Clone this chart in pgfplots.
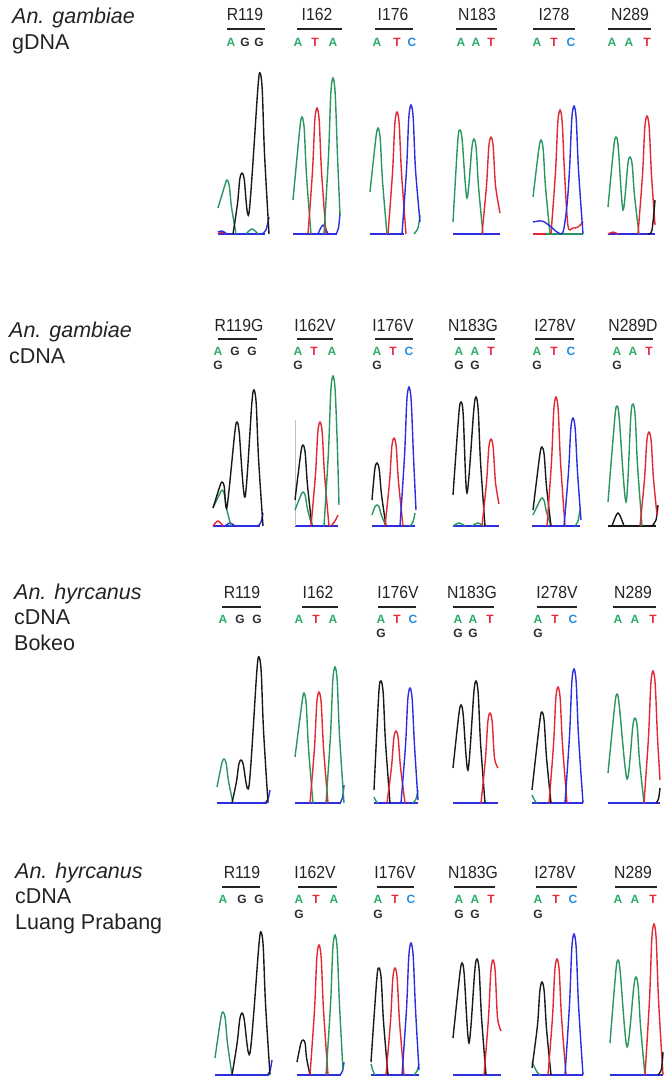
\documentclass[border=0pt]{standalone}
\usepackage{pgfplots}
\pgfplotsset{compat=1.18}
\usepackage{fontspec}
\setmainfont{Liberation Sans}
\newfontfamily\condf[FakeStretch=0.9]{Liberation Sans}
\definecolor{tg}{RGB}{40,150,95}
\definecolor{tr}{RGB}{228,40,50}
\definecolor{tb}{RGB}{45,45,225}
\definecolor{tk}{RGB}{25,25,25}
\definecolor{cA}{RGB}{45,170,105}
\definecolor{cT}{RGB}{230,40,60}
\definecolor{cC}{RGB}{40,140,220}
\definecolor{cG}{RGB}{45,45,45}
\definecolor{lab}{RGB}{35,35,35}
\newcommand{\cod}[4]{\node[text=#4,font=\fontsize{12}{12}\selectfont\bfseries] at (#1,#2) {#3};}
\newcommand{\plab}[3]{\node[text=lab,font=\condf\fontsize{17.5}{18}\selectfont] at (#1,#2) {#3};}
\begin{document}
\begin{tikzpicture}
\begin{axis}[hide axis, scale only axis, width=668pt, height=1079pt,
  xmin=0, xmax=668, ymin=0, ymax=1079, y dir=reverse,
  every axis plot/.append style={line width=1.4pt, smooth, tension=0.5, mark=none}]
\path (rel axis cs:0,0) rectangle (rel axis cs:1,1);
% ---------- overlines ----------
\addplot[lab, line width=2pt, sharp plot] coordinates {(227,29) (265,29)};
\addplot[lab, line width=2pt, sharp plot] coordinates {(297,29) (342,29)};
\addplot[lab, line width=2pt, sharp plot] coordinates {(375,29) (413,29)};
\addplot[lab, line width=2pt, sharp plot] coordinates {(456,29) (497,29)};
\addplot[lab, line width=2pt, sharp plot] coordinates {(533,29) (575,29)};
\addplot[lab, line width=2pt, sharp plot] coordinates {(608,29) (651,29)};
\addplot[lab, line width=2pt, sharp plot] coordinates {(218,339) (257,339)};
\addplot[lab, line width=2pt, sharp plot] coordinates {(297,339) (333,339)};
\addplot[lab, line width=2pt, sharp plot] coordinates {(375,339) (413,339)};
\addplot[lab, line width=2pt, sharp plot] coordinates {(454,339) (495,339)};
\addplot[lab, line width=2pt, sharp plot] coordinates {(535,339) (574,339)};
\addplot[lab, line width=2pt, sharp plot] coordinates {(612,339) (653,339)};
\addplot[lab, line width=2pt, sharp plot] coordinates {(222,607) (261,607)};
\addplot[lab, line width=2pt, sharp plot] coordinates {(302,607) (338,607)};
\addplot[lab, line width=2pt, sharp plot] coordinates {(378,607) (416,607)};
\addplot[lab, line width=2pt, sharp plot] coordinates {(453,607) (494,607)};
\addplot[lab, line width=2pt, sharp plot] coordinates {(537,607) (577,607)};
\addplot[lab, line width=2pt, sharp plot] coordinates {(613,607) (656,607)};
\addplot[lab, line width=2pt, sharp plot] coordinates {(222,887) (260,887)};
\addplot[lab, line width=2pt, sharp plot] coordinates {(298,887) (337,887)};
\addplot[lab, line width=2pt, sharp plot] coordinates {(377,887) (414,887)};
\addplot[lab, line width=2pt, sharp plot] coordinates {(454,887) (495,887)};
\addplot[lab, line width=2pt, sharp plot] coordinates {(536,887) (577,887)};
\addplot[lab, line width=2pt, sharp plot] coordinates {(615,887) (657,887)};
% ---------- baselines ----------
\addplot[tb, line width=1.1pt, sharp plot] coordinates {(218,234) (265,234)};
\addplot[tb, line width=1.1pt, sharp plot] coordinates {(293,234) (337,234)};
\addplot[tb, line width=1.1pt, sharp plot] coordinates {(370,234) (404,234)};
\addplot[tb, line width=1.1pt, sharp plot] coordinates {(453,234) (500,234)};
\addplot[tg, line width=1.1pt, sharp plot] coordinates {(533,234) (583,234)};
\addplot[tb, line width=1.1pt, sharp plot] coordinates {(608,234) (655,234)};
\addplot[tb, line width=1.1pt, sharp plot] coordinates {(213,526) (260,526)};
\addplot[tb, line width=1.1pt, sharp plot] coordinates {(295,526) (338,526)};
\addplot[tb, line width=1.1pt, sharp plot] coordinates {(372,526) (415,526)};
\addplot[tb, line width=1.1pt, sharp plot] coordinates {(453,526) (499,526)};
\addplot[tb, line width=1.1pt, sharp plot] coordinates {(532,526) (580,526)};
\addplot[tk, line width=1.1pt, sharp plot] coordinates {(608,526) (656,526)};
\addplot[tb, line width=1.1pt, sharp plot] coordinates {(217,803) (267,803)};
\addplot[tb, line width=1.1pt, sharp plot] coordinates {(295,803) (341,803)};
\addplot[tb, line width=1.1pt, sharp plot] coordinates {(374,803) (418,803)};
\addplot[tb, line width=1.1pt, sharp plot] coordinates {(453,803) (498,803)};
\addplot[tb, line width=1.1pt, sharp plot] coordinates {(532,803) (583,803)};
\addplot[tb, line width=1.1pt, sharp plot] coordinates {(608,803) (660,803)};
\addplot[tb, line width=1.1pt, sharp plot] coordinates {(215,1075) (269,1075)};
\addplot[tb, line width=1.1pt, sharp plot] coordinates {(297,1075) (341,1075)};
\addplot[tb, line width=1.1pt, sharp plot] coordinates {(371,1075) (419,1075)};
\addplot[tb, line width=1.1pt, sharp plot] coordinates {(453,1075) (501,1075)};
\addplot[tb, line width=1.1pt, sharp plot] coordinates {(532,1075) (583,1075)};
\addplot[tb, line width=1.1pt, sharp plot] coordinates {(610,1075) (663,1075)};
% ================= ROW 1 (base 234) =================
% P1 R119
\addplot[tr] coordinates {(218,234) (222,232) (226,234)};
\addplot[tb] coordinates {(218,232) (222,231) (227,234)};
\addplot[tb] coordinates {(262,234) (266,230) (269,217)};
\addplot[tg] coordinates {(218,208) (224.8,185.4) (227,180) (229.2,185.4) (231.5,207) (236,234)};
\addplot[tg] coordinates {(246,234) (252,229) (258,234)};
\addplot[tk] coordinates {(233,234) (237.5,203.5) (239.8,179.1) (242,173) (244.2,179.1) (249,213) (257.8,89.1) (260,73) (262.2,89.1) (264.5,153.5) (269,234)};
% P2 I162
\addplot[tb] coordinates {(318,234) (323,225) (328,234)};
\addplot[tb] coordinates {(336,234) (338.5,228) (340,213)};
\addplot[tg] coordinates {(293,200) (299.8,128.7) (302,117) (304.2,128.7) (306.5,175.5) (311,234)};
\addplot[tr] coordinates {(308,234) (312.5,171) (314.8,120.6) (317,108) (319.2,120.6) (321.5,171) (326,234)};
\addplot[tg] coordinates {(324,234) (328.5,156) (330.8,93.6) (333,78) (335.2,93.6) (337.5,156) (340,215)};
% P3 I176
\addplot[tg] coordinates {(370,192) (375.8,138.6) (378,128) (380.2,138.6) (382.5,181) (387,234)};
\addplot[tg] coordinates {(414,234) (418,228) (420,215)};
\addplot[tr] coordinates {(388,234) (392.5,173) (394.8,124.2) (397,112) (399.2,124.2) (401.5,173) (406,234)};
\addplot[tb] coordinates {(402,234) (406.5,169.5) (408.8,117.9) (411,105) (413.2,117.9) (415.5,169.5) (420,222)};
% P4 N183
\addplot[tg] coordinates {(453,222) (457.8,140.4) (460,130) (462.2,140.4) (467,198) (471.8,148.5) (474,139) (476.2,148.5) (478.5,186.5) (483,234)};
\addplot[tr] coordinates {(482,234) (486.5,185.5) (488.8,146.7) (491,137) (493.2,146.7) (495.5,185.5) (500,213)};
% P5 I278
\addplot[tg] coordinates {(533,197) (538.8,149.4) (541,140) (543.2,149.4) (545.5,187) (550,234)};
\addplot[tr] coordinates {(533,234) (546,234)};
\addplot[tr] coordinates {(551,234) (555.5,172) (557.8,122.4) (560,110) (562.2,122.4) (564.5,172) (568,226) (573,228) (578,227) (583,222)};
\addplot[tb] coordinates {(533,222) (542,221) (550,226) (557,232) (563,232) (567,205) (569.5,170) (571.8,118.8) (574,106) (576.2,118.8) (578.5,170) (583,234)};
% P6 N289
\addplot[tr] coordinates {(608,234) (613,232) (618,234)};
\addplot[tg] coordinates {(608,207) (613.8,146.7) (616,137) (618.2,146.7) (623,210) (627.8,164.7) (630,157) (632.2,164.7) (634.5,195.5) (639,234)};
\addplot[tr] coordinates {(638,234) (642.5,175) (644.8,127.8) (647,116) (649.2,127.8) (651.5,175) (655,225)};
\addplot[tk] coordinates {(648,234) (652,230) (655,200)};
% ================= ROW 2 (base 526) =================
\addplot[black!25, line width=0.8pt, sharp plot] coordinates {(295,420) (295,526)};
% P1 R119G
\addplot[tr] coordinates {(213,526) (218,521) (223,526)};
\addplot[tb] coordinates {(225,526) (230,523) (235,526)};
\addplot[tb] coordinates {(258,526) (261,522) (263,513)};
\addplot[tg] coordinates {(213,508) (219.8,493.6) (222,490) (224.2,493.6) (226.5,508) (231,526)};
\addplot[tk] coordinates {(213,508) (219.8,486.4) (222,482) (224.2,486.4) (227,507) (234.8,432.4) (237,422) (239.2,432.4) (245,497) (251.8,403.6) (254,390) (256.2,403.6) (258.5,458) (263,526)};
% P2 I162V
\addplot[tg] coordinates {(295,510) (300.8,495.4) (303,492) (305.2,495.4) (307.5,509) (312,526)};
\addplot[tk] coordinates {(295,500) (300.8,453.1) (303,445) (305.2,453.1) (307.5,485.5) (312,526)};
\addplot[tr] coordinates {(331,526) (335,521) (338,515)};
\addplot[tr] coordinates {(311,526) (315.5,474) (317.8,432.4) (320,422) (322.2,432.4) (324.5,474) (329,526)};
\addplot[tg] coordinates {(324,526) (328.5,451) (330.8,391) (333,376) (335.2,391) (337.5,451) (339,505)};
% P3 I176V
\addplot[tg] coordinates {(372,515) (374.8,507.1) (377,505) (379.2,507.1) (381.5,515.5) (386,526)};
\addplot[tg] coordinates {(410,526) (413,522) (415,513)};
\addplot[tk] coordinates {(372,500) (374.8,469.3) (377,463) (379.2,469.3) (381.5,494.5) (386,526)};
\addplot[tr] coordinates {(385,526) (389.5,482) (391.8,446.8) (394,438) (396.2,446.8) (398.5,482) (403,526)};
\addplot[tb] coordinates {(400,526) (404.5,456.5) (406.8,400.9) (409,387) (411.2,400.9) (413.5,456.5) (416,510)};
% P4 N183G
\addplot[tg] coordinates {(453,526) (459,523) (465,526)};
\addplot[tg] coordinates {(472,526) (478,523) (484,526)};
\addplot[tk] coordinates {(453,495) (458.8,414.4) (461,402) (463.2,414.4) (467,493) (473.8,409.9) (476,397) (478.2,409.9) (480.5,461.5) (485,526)};
\addplot[tr] coordinates {(482,526) (486.5,482.5) (488.8,447.7) (491,439) (493.2,447.7) (495.5,482.5) (499,504)};
% P5 I278V
\addplot[tg] coordinates {(533,515) (539.8,500.8) (542,498) (544.2,500.8) (546.5,512) (551,526)};
\addplot[tg] coordinates {(575,526) (578,521) (580,510)};
\addplot[tk] coordinates {(533,510) (539.8,454.9) (542,447) (544.2,454.9) (546.5,486.5) (551,526)};
\addplot[tr] coordinates {(547,526) (551.5,461.5) (553.8,409.9) (556,397) (558.2,409.9) (560.5,461.5) (565,526)};
\addplot[tb] coordinates {(564,526) (568.5,472) (570.8,428.8) (573,418) (575.2,428.8) (577.5,472) (581,520)};
% P6 N289D
\addplot[tk] coordinates {(612,526) (618,513) (624,526)};
\addplot[tk] coordinates {(652,526) (656,520) (658,505)};
\addplot[tg] coordinates {(608,502) (614.8,418) (617,406) (619.2,418) (626,502) (630.8,416.2) (633,404) (635.2,416.2) (637.5,465) (642,526)};
\addplot[tr] coordinates {(640,526) (644.5,479) (646.8,441.4) (649,432) (651.2,441.4) (653.5,479) (657,515)};
% ================= ROW 3 (base 803) =================
% P1 R119
\addplot[tb] coordinates {(265,803) (268,799) (270,790)};
\addplot[tg] coordinates {(217,787) (221.8,763.4) (224,759) (226.2,763.4) (228.5,781) (233,803)};
\addplot[tk] coordinates {(232,803) (236.5,781.5) (238.8,764.3) (241,760) (243.2,764.3) (249,786) (256.8,671.6) (259,657) (261.2,671.6) (263.5,730) (268,803)};
% P2 I162
\addplot[tb] coordinates {(340,803) (342.5,798) (344,785)};
\addplot[tg] coordinates {(295,757) (301.8,704) (304,693) (306.2,704) (308.5,748) (313,803)};
\addplot[tr] coordinates {(310,803) (314.5,747.5) (316.8,703.1) (319,692) (321.2,703.1) (323.5,747.5) (328,803)};
\addplot[tg] coordinates {(326,803) (330.5,735) (332.8,680.6) (335,667) (337.2,680.6) (339.5,735) (344,803)};
% P3 I176V
\addplot[tg] coordinates {(374,797) (376,801) (378,803)};
\addplot[tg] coordinates {(413,803) (416,799) (418,790)};
\addplot[tk] coordinates {(374,790) (378.8,693.2) (381,681) (383.2,693.2) (385.5,742) (390,803)};
\addplot[tr] coordinates {(387,803) (391.5,767) (393.8,738.2) (396,731) (398.2,738.2) (400.5,767) (405,803)};
\addplot[tb] coordinates {(401,803) (405.5,745.5) (407.8,699.5) (410,688) (412.2,699.5) (414.5,745.5) (418,800)};
% P4 N183G
\addplot[tk] coordinates {(453,768) (458.8,714.8) (461,705) (463.2,714.8) (468,770) (473.8,693.2) (476,681) (478.2,693.2) (480.5,742) (485,803)};
\addplot[tr] coordinates {(481,803) (485.5,758) (487.8,722) (490,713) (492.2,722) (494.5,758) (498,768)};
% P5 I278V
\addplot[tg] coordinates {(532,795) (535,801) (537,803)};
\addplot[tk] coordinates {(532,790) (539.8,721.1) (542,712) (544.2,721.1) (546.5,757.5) (551,803)};
\addplot[tr] coordinates {(549,803) (553.5,745) (555.8,698.6) (558,687) (560.2,698.6) (562.5,745) (567,803)};
\addplot[tb] coordinates {(565,803) (569.5,736) (571.8,682.4) (574,669) (576.2,682.4) (578.5,736) (583,803)};
% P6 N289
\addplot[tg] coordinates {(608,773) (614.8,704.9) (617,694) (619.2,704.9) (627,779) (632.8,726.5) (635,718) (637.2,726.5) (639.5,760.5) (644,803)};
\addplot[tr] coordinates {(644,803) (648.5,737) (650.8,684.2) (653,671) (655.2,684.2) (657.5,737) (660,780)};
\addplot[tk] coordinates {(656,803) (658.5,799) (660,788)};
% ================= ROW 4 (base 1075) =================
% P1 R119
\addplot[tb] coordinates {(267,1075) (270,1071) (272,1060)};
\addplot[tg] coordinates {(215,1058) (220.8,1018.3) (223,1012) (225.2,1018.3) (227.5,1043.5) (232,1075)};
\addplot[tk] coordinates {(232,1075) (237,1044) (239.8,1019.2) (242,1013) (244.2,1019.2) (250,1053) (258.8,946.3) (261,932) (263.2,946.3) (265.5,1003.5) (270,1075)};
% P2 I162V
\addplot[tb] coordinates {(340,1075) (342.5,1071) (344,1062)};
\addplot[tk] coordinates {(297,1062) (300.8,1043.5) (303,1040) (305.2,1043.5) (306.5,1057.5) (310,1075)};
\addplot[tr] coordinates {(310,1075) (314.5,1010) (316.8,958) (319,945) (321.2,958) (323.5,1010) (328,1075)};
\addplot[tg] coordinates {(326,1075) (330.5,1005) (332.8,949) (335,935) (337.2,949) (339.5,1005) (343,1070)};
% P3 I176V
\addplot[tg] coordinates {(371,1064) (373,1071) (375,1075)};
\addplot[tg] coordinates {(414,1075) (417,1071) (419,1064)};
\addplot[tk] coordinates {(371,1062) (376.8,978.7) (379,968) (381.2,978.7) (383.5,1021.5) (388,1075)};
\addplot[tr] coordinates {(386,1075) (390.5,1021.5) (392.8,978.7) (395,968) (397.2,978.7) (399.5,1021.5) (404,1075)};
\addplot[tb] coordinates {(402,1075) (406.5,1009) (408.8,956.2) (411,943) (413.2,956.2) (415.5,1009) (419,1070)};
% P4 N183G
\addplot[tk] coordinates {(453,1038) (459.8,974.2) (462,963) (464.2,974.2) (469,1043) (474.8,970.6) (477,959) (479.2,970.6) (481.5,1017) (486,1075)};
\addplot[tr] coordinates {(484,1075) (488.5,1017.5) (490.8,971.5) (493,960) (495.2,971.5) (497.5,1017.5) (501,1031)};
% P5 I278V
\addplot[tg] coordinates {(532,1062) (537,1072) (540,1075)};
\addplot[tk] coordinates {(532,1068) (537.5,1025) (539.8,991.3) (542,982) (544.2,991.3) (546.5,1028.5) (551,1075)};
\addplot[tr] coordinates {(548,1075) (552.5,1017) (554.8,970.6) (557,959) (559.2,970.6) (561.5,1017) (566,1075)};
\addplot[tb] coordinates {(565,1075) (569.5,1004.5) (571.8,948.1) (574,934) (576.2,948.1) (578.5,1004.5) (583,1075)};
% P6 N289
\addplot[tg] coordinates {(610,1043) (615.8,971.5) (618,960) (620.2,971.5) (627,1047) (633.8,986.8) (636,977) (638.2,986.8) (640.5,1026) (645,1075)};
\addplot[tr] coordinates {(645,1075) (649.5,999.5) (651.8,939.1) (654,924) (656.2,939.1) (658.5,999.5) (663,1075)};
\addplot[tk] coordinates {(658,1075) (661.5,1069) (663,1052)};
% ---------- panel labels ----------
\plab{245}{14}{R119}\plab{317}{14}{I162}\plab{393}{14}{I176}\plab{477}{14}{N183}\plab{554}{14}{I278}\plab{630}{14}{N289}
\plab{239}{325}{R119G}\plab{315}{325}{I162V}\plab{393}{325}{I176V}\plab{473}{325}{N183G}\plab{555}{325}{I278V}\plab{633}{325}{N289D}
\plab{242}{592}{R119}\plab{318}{592}{I162}\plab{398}{592}{I176V}\plab{472}{592}{N183G}\plab{557}{592}{I278V}\plab{633}{592}{N289}
\plab{242}{872}{R119}\plab{315}{872}{I162V}\plab{395}{872}{I176V}\plab{473}{872}{N183G}\plab{555}{872}{I278V}\plab{633}{872}{N289}
% ---------- codons ----------
\cod{231}{42}{A}{cA}\cod{245}{42}{G}{cG}\cod{259}{42}{G}{cG}
\cod{298}{42}{A}{cA}\cod{315}{42}{T}{cT}\cod{333}{42}{A}{cA}
\cod{377}{42}{A}{cA}\cod{397}{42}{T}{cT}\cod{412}{42}{C}{cC}
\cod{461}{42}{A}{cA}\cod{476}{42}{A}{cA}\cod{491}{42}{T}{cT}
\cod{537}{42}{A}{cA}\cod{554}{42}{T}{cT}\cod{571}{42}{C}{cC}
\cod{612}{42}{A}{cA}\cod{629}{42}{A}{cA}\cod{647}{42}{T}{cT}
\cod{218}{351}{A}{cA}\cod{235}{351}{G}{cG}\cod{252}{351}{G}{cG}\cod{218}{365}{G}{cG}
\cod{298}{351}{A}{cA}\cod{314}{351}{T}{cT}\cod{332}{351}{A}{cA}\cod{298}{365}{G}{cG}
\cod{377}{351}{A}{cA}\cod{393}{351}{T}{cT}\cod{409}{351}{C}{cC}\cod{377}{365}{G}{cG}
\cod{459}{351}{A}{cA}\cod{475}{351}{A}{cA}\cod{491}{351}{T}{cT}\cod{459}{365}{G}{cG}\cod{475}{365}{G}{cG}
\cod{537}{351}{A}{cA}\cod{554}{351}{T}{cT}\cod{571}{351}{C}{cC}\cod{537}{365}{G}{cG}
\cod{617}{351}{A}{cA}\cod{633}{351}{A}{cA}\cod{649}{351}{T}{cT}\cod{617}{365}{G}{cG}
\cod{223}{619}{A}{cA}\cod{240}{619}{G}{cG}\cod{257}{619}{G}{cG}
\cod{299}{619}{A}{cA}\cod{316}{619}{T}{cT}\cod{333}{619}{A}{cA}
\cod{381}{619}{A}{cA}\cod{397}{619}{T}{cT}\cod{413}{619}{C}{cC}\cod{381}{633}{G}{cG}
\cod{458}{619}{A}{cA}\cod{473}{619}{A}{cA}\cod{490}{619}{T}{cT}\cod{458}{633}{G}{cG}\cod{473}{633}{G}{cG}
\cod{538}{619}{A}{cA}\cod{555}{619}{T}{cT}\cod{573}{619}{C}{cC}\cod{538}{633}{G}{cG}
\cod{618}{619}{A}{cA}\cod{635}{619}{A}{cA}\cod{653}{619}{T}{cT}
\cod{223}{899}{A}{cA}\cod{242}{899}{G}{cG}\cod{259}{899}{G}{cG}
\cod{299}{899}{A}{cA}\cod{316}{899}{T}{cT}\cod{334}{899}{A}{cA}\cod{299}{914}{G}{cG}
\cod{378}{899}{A}{cA}\cod{395}{899}{T}{cT}\cod{411}{899}{C}{cC}\cod{378}{914}{G}{cG}
\cod{459}{899}{A}{cA}\cod{475}{899}{A}{cA}\cod{491}{899}{T}{cT}\cod{459}{914}{G}{cG}\cod{475}{914}{G}{cG}
\cod{538}{899}{A}{cA}\cod{556}{899}{T}{cT}\cod{573}{899}{C}{cC}\cod{538}{914}{G}{cG}
\cod{618}{899}{A}{cA}\cod{635}{899}{A}{cA}\cod{653}{899}{T}{cT}
% ---------- row labels ----------
\begin{scope}[every node/.style={anchor=base west, inner sep=0pt, text=lab, font=\fontsize{21.5}{24}\selectfont}]
\node at (12,23) {\itshape An. gambiae};
\node at (12,49) {gDNA};
\node at (9,337) {\itshape An. gambiae};
\node at (9,363) {cDNA};
\node at (14,599) {\itshape An. hyrcanus};
\node at (14,624) {cDNA};
\node at (14,650) {Bokeo};
\node at (15,878) {\itshape An. hyrcanus};
\node at (15,903) {cDNA};
\node at (15,929) {Luang Prabang};
\end{scope}
\end{axis}
\end{tikzpicture}
\end{document}
